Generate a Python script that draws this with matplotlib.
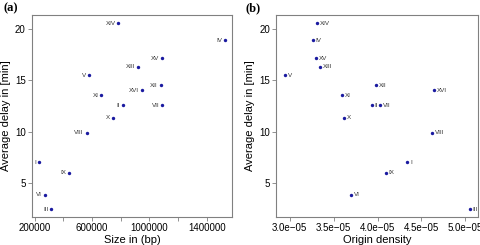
import matplotlib
matplotlib.use("Agg")
import matplotlib.pyplot as plt

plt.rcParams['font.family'] = ['Liberation Sans', 'DejaVu Sans']

chromosomes = ['I', 'II', 'III', 'IV', 'V', 'VI', 'VII', 'VIII',
               'IX', 'X', 'XI', 'XII', 'XIII', 'XIV', 'XV', 'XVI']
size_bp = [230000, 813000, 316000, 1531000, 576000, 270000, 1090000, 562000,
           439000, 745000, 666000, 1078000, 924000, 784000, 1091000, 948000]
delay_min = [7.0, 12.6, 2.39, 18.95, 15.52, 3.82, 12.6, 9.9,
             6.0, 11.33, 13.56, 14.54, 16.33, 20.6, 17.16, 14.05]
origin_density = [4.338e-5, 3.936e-5, 5.053e-5, 3.261e-5, 2.943e-5, 3.698e-5,
                  4.031e-5, 4.622e-5, 4.091e-5, 3.618e-5, 3.595e-5, 3.985e-5,
                  3.349e-5, 3.311e-5, 3.295e-5, 4.641e-5]

size_ticks = [200000, 400000, 600000, 800000, 1000000, 1200000, 1400000]
size_labels = ['200000', '', '600000', '', '1000000', '', '1400000']
dens_ticks = [3.0e-5, 3.5e-5, 4.0e-5, 4.5e-5, 5.0e-5]
dens_labels = ['3.0e\u221205', '3.5e\u221205', '4.0e\u221205', '4.5e\u221205', '5.0e\u221205']
delay_ticks = [5, 10, 15, 20]

fig = plt.figure(figsize=(4.81, 2.45), dpi=100)
W, H = 481.0, 245.0
ax1 = fig.add_axes([32 / W, 1 - 217 / H, 200 / W, 202 / H])
ax2 = fig.add_axes([276.5 / W, 1 - 217 / H, 201.5 / W, 202 / H])

pt_color = '#1a1aa0'
frame = '#808080'

for ax, xs, xt, xl, xlim, xlabel, side in [
        (ax1, size_bp, size_ticks, size_labels, (181000, 1577000), 'Size in (bp)', 'left'),
        (ax2, origin_density, dens_ticks, dens_labels, (2.849e-5, 5.144e-5), 'Origin density', 'right')]:
    ax.scatter(xs, delay_min, s=6, color=pt_color, zorder=3, linewidths=0)
    for name, x, y in zip(chromosomes, xs, delay_min):
        if side == 'left':
            ax.annotate(name, (x, y), xytext=(-2, 0), textcoords='offset points',
                        ha='right', va='center', fontsize=4.5, color='#333333')
        else:
            ax.annotate(name, (x, y), xytext=(2, 0), textcoords='offset points',
                        ha='left', va='center', fontsize=4.5, color='#333333')
    ax.set_xlim(*xlim)
    ax.set_ylim(1.65, 21.4)
    ax.set_xticks(xt)
    ax.set_xticklabels(xl)
    ax.set_yticks(delay_ticks)
    ax.tick_params(labelsize=7, length=3, width=0.6, color=frame, pad=1.5)
    for sp in ax.spines.values():
        sp.set_color(frame)
        sp.set_linewidth(0.8)
    ax.set_xlabel(xlabel, fontsize=8, labelpad=1)
    ax.set_ylabel('Average delay in [min]', fontsize=8, labelpad=3)

fig.text(4 / W, 1 - 8 / H, '(a)', fontsize=9, fontweight='bold',
         family=['Liberation Serif', 'DejaVu Serif'], va='center')
fig.text(246 / W, 1 - 8 / H, '(b)', fontsize=9, fontweight='bold',
         family=['Liberation Serif', 'DejaVu Serif'], va='center')

fig.savefig('out.png', dpi=100)
